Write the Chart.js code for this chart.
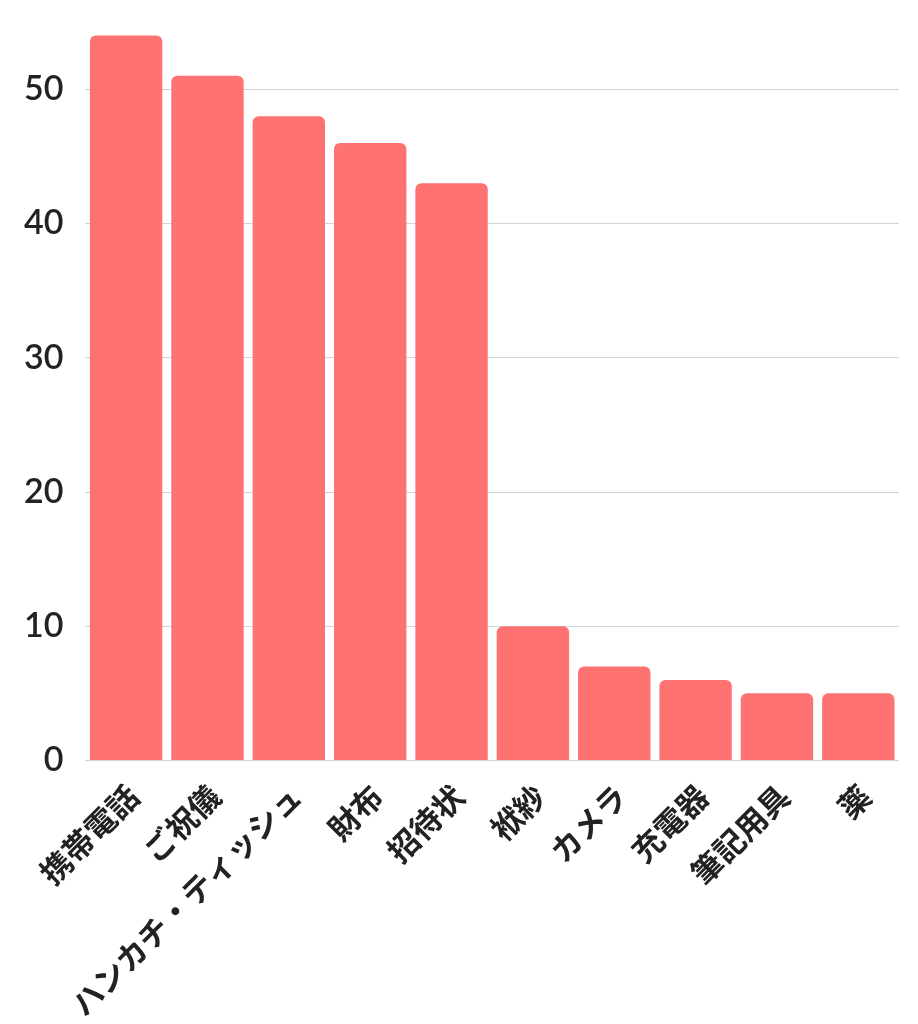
<!DOCTYPE html>
<html lang="ja">
<head>
<meta charset="UTF-8">
<title>持ち物</title>
<script src="https://cdn.jsdelivr.net/npm/chart.js@4.4.0/dist/chart.umd.min.js"></script>
<style>
html,body{margin:0;padding:0;background:#fff}
#box{position:relative;width:918px;height:1024px}
</style>
</head>
<body>
<div id="box"><canvas id="c"></canvas></div>
<script>
const labels = ['携帯電話','ご祝儀','ハンカチ・ティッシュ','財布','招待状','袱紗','カメラ','充電器','筆記用具','薬'];
const values = [54,51,48,46,43,10,7,6,5,5];

new Chart(document.getElementById('c'),{
  type:'bar',
  data:{
    labels:labels,
    datasets:[{
      data:values,
      backgroundColor:'#ff7272',
      borderRadius:6,
      borderSkipped:'bottom',
      barPercentage:0.89,
      categoryPercentage:1
    }]
  },
  options:{
    responsive:true,
    maintainAspectRatio:false,
    animation:false,
    layout:{padding:{top:0,right:19,left:2,bottom:-8}},
    plugins:{legend:{display:false},tooltip:{enabled:false}},
    scales:{
      x:{
        grid:{display:false},
        border:{display:false},
        ticks:{
          minRotation:45,maxRotation:45,
          padding:9,labelOffset:7,
          color:'#222',
          font:{family:'"Noto Sans CJK JP"',size:31,weight:'bold'}
        }
      },
      y:{
        min:0,max:55,
        border:{display:false},
        grid:{color:'#d4d4d4',drawTicks:false,lineWidth:1},
        ticks:{
          stepSize:10,includeBounds:false,padding:22,
          color:'#222',
          // tiny lineHeight keeps the axis from reserving extra space on top
          font:{family:'Lato',size:34,weight:'600',lineHeight:0.01}
        }
      }
    }
  }
});
</script>
</body>
</html>
